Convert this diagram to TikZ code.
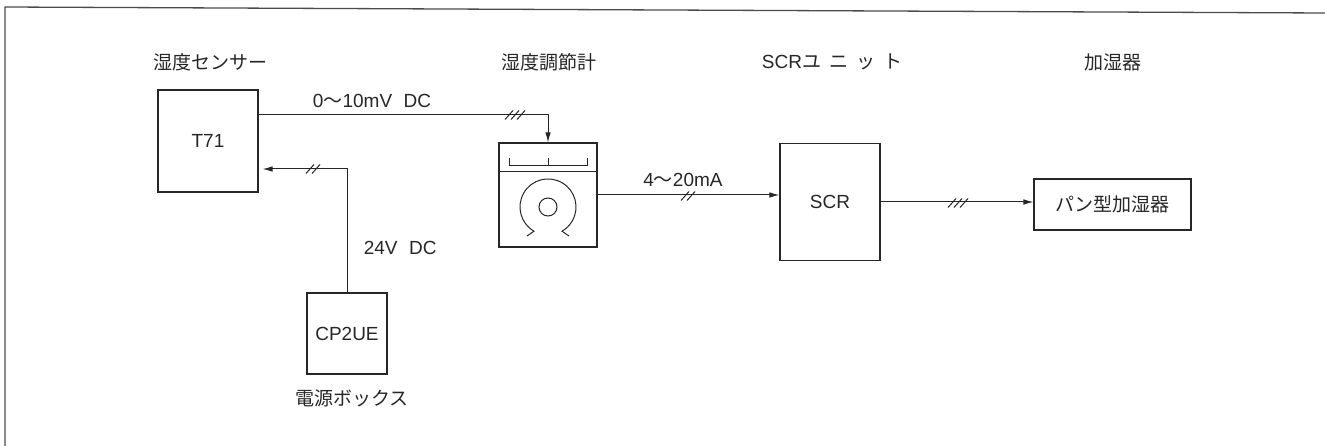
\documentclass[tikz,border=0pt]{standalone}
\usepackage{fontspec}
\setmainfont{Liberation Sans}
\newfontfamily\jp{Noto Sans CJK JP}
\usetikzlibrary{arrows.meta}

% slashes across a wire: #1 centre, #2 how many
\newcommand{\wiremark}[2]{%
  \begin{scope}[shift={(#1)}]
    \foreach \k in {1,...,#2}
      \draw[line width=1pt] ({(\k-(#2+1)/2)*6-4},4.5) -- ({(\k-(#2+1)/2)*6+4},-4.5);
  \end{scope}}

\begin{document}
\begin{tikzpicture}[x=1pt,y=-1pt,line width=1pt,black!85,
    font=\fontsize{19}{22}\selectfont,
    unit/.style={draw,line width=1.1pt,inner sep=0pt},
    sig/.style={-{Latex[length=10pt,width=5.5pt]}}]
  \useasboundingbox (0,0) rectangle (1325,446);
  \draw[line width=1.3pt,black!70] (5,446) -- (5,7) -- (1325,13);

  % headings
  \node (hsen) at (210,62) {\jp 湿度センサー};
  \node (hmet) at (549,62) {\jp 湿度調節計};
  \node (hscr) at (832,62) {SCR{\jp ユ\hspace{8pt}ニ\hspace{8pt}ッ\hspace{8pt}ト}};
  \node (hhum) at (1113,62) {\jp 加湿器};

  % units
  \node[unit,minimum width=100pt,minimum height=102pt] (t71) at (208,141) {T71};
  \node[unit,minimum width=98pt,minimum height=104pt] (meter) at (548,195) {};
  \node[unit,minimum width=100pt,minimum height=117pt] (scr) at (830,202) {SCR};
  \node[unit,minimum width=157pt,minimum height=51pt] (pan) at (1112.5,204.5) {\jp パン型加湿器};
  \node[unit,minimum width=80pt,minimum height=81pt] (cp) at (347,333.5) {CP2UE};
  \node (lbox) at (352,398) {\jp 電源ボックス};

  % meter face
  \begin{scope}[shift={(meter.center)}]
    \draw (-49,-23) -- (49,-23);
    \draw (-39,-37) -- (-39,-29) -- (39,-29) -- (39,-37) (0,-29) -- (0,-37);
    \draw (0,12) circle[radius=9];
    \draw (-21,41) -- (-14,36.2) arc[start angle=120,end angle=420,radius=28] -- (21,41);
  \end{scope}

  % wiring
  \draw[sig] ([yshift=26pt]t71.east) -| (meter.north);
  \draw[sig,shorten >=4pt] (cp.north) |- ([yshift=-28pt]t71.east);
  \draw[sig] (meter.east) -- (meter.east -| scr.west);
  \draw[sig] (scr.east) -- (scr.east -| pan.west);
  \wiremark{515,115}{3}
  \wiremark{313,169}{2}
  \wiremark{688,196}{2}
  \wiremark{958,203}{3}

  \node (lmv) at (372,101) {0{\jp 〜}10mV\hspace{0.6em}DC};
  \node (lma) at (683,180) {4{\jp 〜}20mA};
  \node[anchor=west] (lv) at (360,248) {24V\hspace{0.6em}DC};
\end{tikzpicture}
\end{document}
